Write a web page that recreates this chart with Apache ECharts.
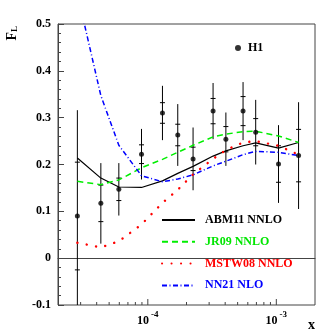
<!DOCTYPE html>
<html>
<head>
<meta charset="utf-8">
<script src="https://cdn.jsdelivr.net/npm/echarts@6/dist/echarts.min.js"></script>
<style>
html, body { margin: 0; padding: 0; background: #fff; }
#chart { width: 332px; height: 332px; }
</style>
</head>
<body>
<div id="chart"></div>
<script>
// H1 points: x, F_L, inner (stat) error, total error
var xData = [2.83e-5, 4.31e-5, 5.95e-5, 8.93e-5, 1.30e-4, 1.71e-4, 2.25e-4, 3.22e-4, 4.05e-4, 5.51e-4, 6.91e-4, 1.04e-3, 1.49e-3];
var h1Value = [0.090, 0.117, 0.147, 0.222, 0.310, 0.263, 0.212, 0.314, 0.254, 0.314, 0.269, 0.201, 0.219];
var h1Stat = [0.115, 0.039, 0.024, 0.020, 0.022, 0.023, 0.025, 0.027, 0.027, 0.031, 0.029, 0.039, 0.056];
var h1Total = [0.226, 0.086, 0.056, 0.054, 0.058, 0.066, 0.067, 0.060, 0.057, 0.062, 0.069, 0.083, 0.114];

// predictions at the same x
var abm11 = [0.214, 0.171, 0.152, 0.151, 0.165, 0.181, 0.196, 0.218, 0.229, 0.240, 0.246, 0.235, 0.247];
var jr09 = [0.164, 0.157, 0.167, 0.193, 0.211, 0.226, 0.241, 0.259, 0.265, 0.270, 0.271, 0.261, 0.247];
var mstw08 = [0.033, 0.023, 0.036, 0.072, 0.118, 0.146, 0.179, 0.212, 0.231, 0.247, 0.250, 0.240, 0.221];
var nn21 = [0.565, 0.347, 0.241, 0.176, 0.163, 0.169, 0.178, 0.197, 0.207, 0.221, 0.228, 0.226, 0.219];

// x axis ticks (log axis, drawn by hand)
var xMajorTicks = [1e-4, 1e-3];
var xMinorTicks = [3e-5, 4e-5, 5e-5, 6e-5, 7e-5, 8e-5, 9e-5, 2e-4, 3e-4, 4e-4, 5e-4, 6e-4, 7e-4, 8e-4, 9e-4];

var yMin = -0.1, yMax = 0.5;
var serif = 'Liberation Serif';

function pairs(ys) {
	return xData.map(function (x, i) { return [x, ys[i]]; });
}

(function () {
	let myChart = echarts.init(document.getElementById('chart'));

	let tickData = xMajorTicks.map(function (v) { return [v, 6]; })
		.concat(xMinorTicks.map(function (v) { return [v, 3]; }));

	let errData = xData.map(function (x, i) {
		return [x, h1Value[i], h1Stat[i], h1Total[i]];
	});

	let option = {
		backgroundColor: '#fff',
		animation: false,
		grid: {
			left: 58,
			top: 24,
			right: 17,
			bottom: 27,
			show: true,
			borderColor: '#444',
			borderWidth: 1
		},
		xAxis: {
			type: 'log',
			logBase: 10,
			min: 2e-5,
			max: 2e-3,
			axisLine: { lineStyle: { color: '#444' } },
			axisTick: { show: false },
			splitLine: { show: false },
			axisLabel: {
				margin: 4,
				formatter: function (v) {
					let e = Math.log10(v);
					if (Math.abs(e - Math.round(e)) > 1e-6) return '';
					return '{b|10}{s|' + Math.round(e) + '}';
				},
				rich: {
					b: { fontFamily: serif, fontWeight: 'bold', fontSize: 12, color: '#000', padding: [6, 0, 0, 0] },
					s: { fontFamily: serif, fontWeight: 'bold', fontSize: 9, color: '#000', padding: [0, 0, 6, 2] }
				}
			}
		},
		yAxis: {
			type: 'value',
			min: yMin,
			max: yMax,
			interval: 0.1,
			axisLine: { show: true, lineStyle: { color: '#444' } },
			axisTick: { inside: true, length: 6, lineStyle: { color: '#444' } },
			minorTick: { show: true, splitNumber: 5, length: 3, lineStyle: { color: '#444' } },
			splitLine: { show: false },
			axisLabel: {
				margin: 7,
				fontFamily: serif,
				fontWeight: 'bold',
				fontSize: 12,
				color: '#000'
			}
		},
		legend: [
			{
				data: ['H1'],
				left: 235,
				top: 42,
				padding: 0,
				itemWidth: 6,
				itemHeight: 6,
				textStyle: { fontFamily: serif, fontWeight: 'bold', fontSize: 12, color: '#000', padding: [0, 0, 0, 2] }
			},
			{
				orient: 'vertical',
				left: 161,
				top: 214,
				padding: 0,
				itemWidth: 33,
				itemHeight: 14,
				itemGap: 9.8,
				itemStyle: { opacity: 0 },
				textStyle: { fontFamily: serif, fontWeight: 'bold', fontSize: 12, padding: [0, 0, 0, 5] },
				data: [
					{ name: 'ABM11 NNLO', textStyle: { color: '#000' } },
					{ name: 'JR09 NNLO', textStyle: { color: '#00e600' } },
					{ name: 'MSTW08 NNLO', textStyle: { color: '#ff0000' } },
					{ name: 'NN21 NLO', textStyle: { color: '#0000ff' } }
				]
			}
		],
		graphic: [
			{
				type: 'text',
				left: 5,
				top: 26,
				rotation: Math.PI / 2,
				style: {
					text: '{f|F}{l|L}',
					rich: {
						f: { fontFamily: serif, fontWeight: 'bold', fontSize: 14, fill: '#000' },
						l: { fontFamily: serif, fontWeight: 'bold', fontSize: 9, fill: '#000', padding: [6, 0, 0, 0] }
					}
				}
			},
			{
				type: 'text',
				left: 308,
				top: 318,
				style: { text: 'x', fontFamily: serif, fontWeight: 'bold', fontSize: 14, fill: '#000' }
			}
		],
		series: [
			{
				name: 'ticks',
				type: 'custom',
				silent: true,
				data: tickData,
				renderItem: function (params, api) {
					let p = api.coord([api.value(0), yMin]);
					return {
						type: 'line',
						shape: { x1: p[0], y1: p[1], x2: p[0], y2: p[1] - api.value(1) },
						style: { stroke: '#444', lineWidth: 1 }
					};
				}
			},
			{
				name: 'ABM11 NNLO',
				type: 'line',
				symbol: 'none',
				color: '#000',
				lineStyle: { color: '#000', width: 1.2 },
				data: pairs(abm11)
			},
			{
				name: 'JR09 NNLO',
				type: 'line',
				symbol: 'none',
				color: '#00e600',
				lineStyle: { color: '#00ee00', width: 1.5, type: [6, 4] },
				data: pairs(jr09)
			},
			{
				name: 'MSTW08 NNLO',
				type: 'line',
				symbol: 'none',
				color: '#ff0000',
				lineStyle: { color: '#ff0000', width: 2.4, type: [0.1, 9.4], cap: 'round' },
				data: pairs(mstw08)
			},
			{
				name: 'NN21 NLO',
				type: 'line',
				symbol: 'none',
				color: '#0000ff',
				lineStyle: { color: '#0000ff', width: 1.5, type: [5, 2.5, 1, 2.5] },
				data: pairs(nn21)
			},
			{
				name: 'errors',
				type: 'custom',
				clip: true,
				silent: true,
				z: 3,
				data: errData,
				renderItem: function (params, api) {
					let x = api.value(0), y = api.value(1), st = api.value(2), tot = api.value(3);
					let t = api.coord([x, y + tot]);
					let b = api.coord([x, y - tot]);
					let s1 = api.coord([x, y + st]);
					let s2 = api.coord([x, y - st]);
					let st_ = { stroke: '#000', lineWidth: 1 };
					return {
						type: 'group',
						children: [
							{ type: 'line', shape: { x1: t[0], y1: t[1], x2: b[0], y2: b[1] }, style: st_ },
							{ type: 'line', shape: { x1: s1[0] - 2.5, y1: s1[1], x2: s1[0] + 2.5, y2: s1[1] }, style: st_ },
							{ type: 'line', shape: { x1: s2[0] - 2.5, y1: s2[1], x2: s2[0] + 2.5, y2: s2[1] }, style: st_ }
						]
					};
				}
			},
			{
				name: 'H1',
				type: 'scatter',
				symbol: 'circle',
				symbolSize: 5,
				z: 4,
				itemStyle: { color: '#000' },
				data: pairs(h1Value)
			}
		]
	};
	myChart.setOption(option);
	window.addEventListener('resize', function () {
		myChart.resize();
	});
})();
</script>
</body>
</html>
